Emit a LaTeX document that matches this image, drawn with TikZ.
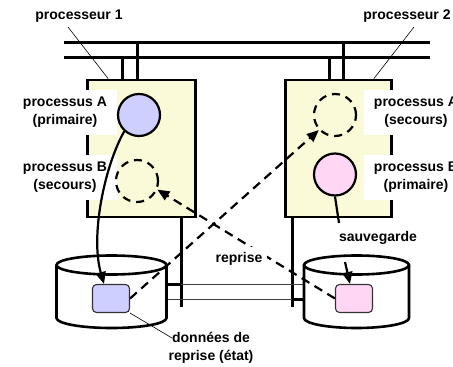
\documentclass[tikz,border=0pt]{standalone}
\usepackage{fontspec}
\setmainfont{Liberation Sans}
\usetikzlibrary{arrows.meta}
\definecolor{procfill}{RGB}{250,250,216}
\definecolor{lav}{RGB}{206,206,255}
\definecolor{pinkf}{RGB}{255,215,245}
\begin{document}
\begin{tikzpicture}[x=1pt,y=-1pt, font=\fontsize{14}{18}\selectfont\bfseries,
  procbox/.style={draw, line width=2.6pt, fill=procfill, inner sep=0pt},
  bus/.style={line width=3pt},
  proc/.style={circle, draw, line width=2.2pt, minimum size=42pt, inner sep=0pt},
  ghost/.style={proc, dash pattern=on 8pt off 6pt},
  lbl/.style={fill=white, align=center, inner xsep=10pt, inner ysep=7pt},
  txt/.style={inner sep=2pt},
  disk/.style={draw, line width=2.6pt, fill=white},
  rec/.style={draw=black!80, line width=1.1pt, rounded corners=4pt, minimum width=37pt, minimum height=28pt, inner sep=0pt},
  flow/.style={line width=2.2pt, -{Triangle[length=12pt,width=10pt]}},
  dflow/.style={flow, dash pattern=on 9pt off 6pt},
  leader/.style={line width=0.6pt},
  link/.style={line width=1pt, draw=black!75},
  stub/.style={line width=3pt}]
\useasboundingbox (0,0) rectangle (453,367);

% bus
\coordinate (busT) at (64,42); \coordinate (busTe) at (430,42);
\coordinate (busB) at (64,57); \coordinate (busBe) at (430,57);
\draw[bus] (busT) -- (busTe);
\draw[bus] (busB) -- (busBe);
\coordinate (s1) at (122,79); \coordinate (s2) at (137,79);
\coordinate (s3) at (329,79); \coordinate (s4) at (343,79);
\draw[bus] (s1) -- (s1 |- busB);
\draw[bus] (s2) -- (s2 |- busT);
\draw[bus] (s3) -- (s3 |- busB);
\draw[bus] (s4) -- (s4 |- busT);

% processors
\node[procbox, minimum width=108pt, minimum height=137pt] (p1) at (141.5,148.5) {};
\node[procbox, minimum width=106pt, minimum height=137pt] (p2) at (338.5,148.5) {};

% bars under processors and links to disks
\coordinate (b1t) at (181,218); \coordinate (b1b) at (181,307);
\coordinate (b2t) at (292,218); \coordinate (b2b) at (292,307);
\draw[stub] (b1t) -- (b1b);
\draw[stub] (b2t) -- (b2b);
\coordinate (lu1) at (166.5,284); \coordinate (lu2) at (181,284); \coordinate (lu3) at (304,284);
\coordinate (ll1) at (166.5,299); \coordinate (ll2) at (292,299); \coordinate (ll3) at (304,299);
\draw[link] (lu2) -- (lu3);
\draw[link] (ll1) -- (ll2);
\draw[stub] (lu1) -- (lu2);
\draw[stub] (ll2) -- (ll3);

% disks
\draw[disk] (56.5,265) -- (56.5,318) arc[start angle=180,end angle=0,x radius=55,y radius=10] -- (166.5,265);
\draw[disk] (111.5,265) ellipse[x radius=55,y radius=9.5];
\draw[disk] (304,265) -- (304,318) arc[start angle=180,end angle=0,x radius=52.5,y radius=10] -- (409,265);
\draw[disk] (356.5,265) ellipse[x radius=52.5,y radius=9.5];

% labels
\node[lbl] (lAL) at (65,112.5) {processus A\\(primaire)};
\node[lbl] (lBL) at (65,177.5) {processus B\\(secours)};
\node[lbl] (lAR) at (416,112.5) {processus A\\(secours)};
\node[lbl] (lBR) at (416,177.5) {processus B\\(primaire)};

% processes
\node[proc, fill=lav] (aL) at (139,115) {};
\node[ghost] (bL) at (137,181) {};
\node[ghost] (aR) at (335,115) {};
\node[proc, fill=pinkf] (bR) at (335,174.5) {};

% data
\node[rec, fill=lav] (sqL) at (111,298.5) {};
\node[rec, fill=pinkf] (sqR) at (354,298.5) {};

% texts
\node[txt] (pr1) at (79,16) {processeur 1};
\node[txt] (pr2) at (407,16) {processeur 2};
\node[txt] (sv) at (378,238) {sauvegarde};
\node[txt, align=center] (dr) at (211,348) {données de\\reprise (état)};

% leaders
\coordinate (pr1a) at (68,27);
\coordinate (pr2a) at (414,27);
\coordinate (dra) at (172,338);
\draw[leader] (pr1a) -- ([xshift=22pt]p1.north west);
\draw[leader] (pr2a) -- ([xshift=-19pt]p2.north east);
\draw[leader] (sqL.south east) -- (dra);

% flows
\draw[flow] (aL.228) .. controls (105,165) and (90,235) .. ([xshift=-7pt]sqL.north);
\coordinate (sv1) at (339,223); \coordinate (sv2) at (345,262);
\draw[line width=2.2pt] (bR.south) -- (sv1);
\draw[flow] (sv2) -- ([xshift=-4pt]sqR.north);
\draw[dflow] (sqL.east) -- (aR.223);
\draw[dflow] (sqR.west) -- (bL.337);
\node[txt, fill=white, inner sep=5pt] (rp) at (239,258.5) {reprise};
\end{tikzpicture}
\end{document}
